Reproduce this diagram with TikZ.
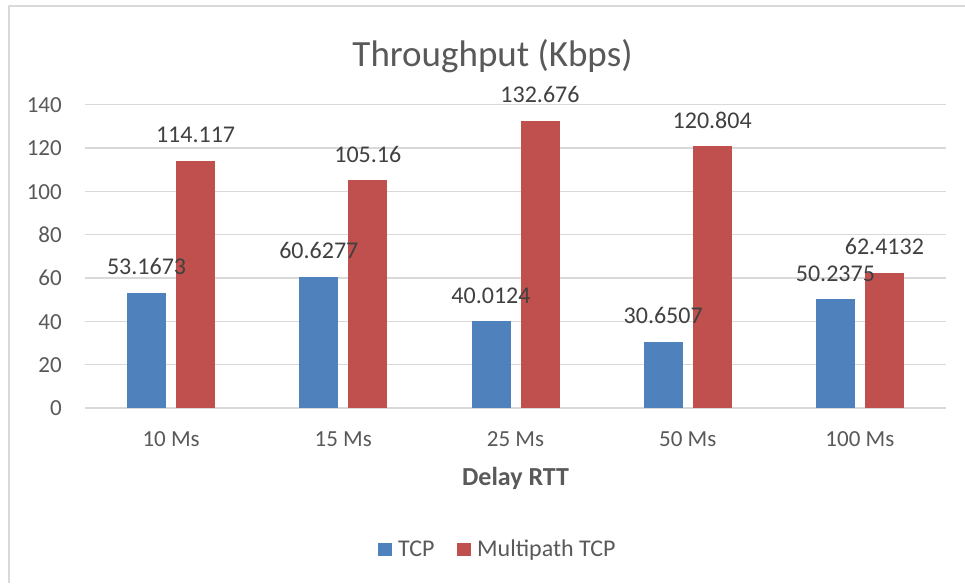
\documentclass[tikz,border=0pt]{standalone}
\usepackage{fontspec}
\setmainfont{Carlito}
\usepackage{tikz}
\definecolor{tcpblue}{HTML}{4F81BD}
\definecolor{mptcpred}{HTML}{C0504D}
\definecolor{axisgray}{HTML}{595959}
\definecolor{labelgray}{HTML}{404040}
\definecolor{gridgray}{HTML}{D9D9D9}

\begin{document}
\begin{tikzpicture}[line cap=round,line join=round,x=1pt,y=1pt,
  gridline/.style={gridgray,line width=1.4pt,line cap=butt},
  chartframe/.style={gridgray,line width=1.5pt,line cap=butt},
  ticklabel/.style={anchor=base east,inner sep=0pt,text=axisgray,font=\fontsize{23}{27}\selectfont},
  catlabel/.style={anchor=base,inner sep=0pt,text=axisgray,font=\fontsize{23}{27}\selectfont},
  datalabel/.style={anchor=base,inner sep=0pt,text=labelgray,font=\fontsize{24}{28}\selectfont},
  tcpbar/.style={fill=tcpblue,draw=none},
  mpbar/.style={fill=mptcpred,draw=none}]
\useasboundingbox (0,0) rectangle (965,583);
% frame of the chart area
\draw[chartframe] (9,0) -- (9,577) -- (965,577);
% title
\node[anchor=base,inner sep=0pt,text=axisgray,font=\fontsize{37}{44}\selectfont] (title) at (492.5,516.3) {Throughput (Kbps)};
% grid and y labels
\foreach \v in {0,20,...,140}{
  \draw[gridline] (85,{175+2.166*\v}) -- (946,{175+2.166*\v});
  \node[ticklabel] (y\v) at (62,{175+2.166*\v-7.7}) {\v};
}
% bars
\foreach \i/\cat/\a/\b in {1/10 Ms/53.1673/114.117,2/15 Ms/60.6277/105.16,3/25 Ms/40.0124/132.676,4/50 Ms/30.6507/120.804,5/100 Ms/50.2375/62.4132}{
  \pgfmathsetmacro{\cx}{85+172.2*(\i-0.5)}
  \fill[tcpbar] (\cx-44,175) rectangle (\cx-5,{175+2.166*\a});
  \fill[mpbar] (\cx+5,175) rectangle (\cx+44,{175+2.166*\b});
  \node[catlabel] (cat\i) at (\cx,136.3) {\cat};
}
% data labels
\foreach \i/\a/\b in {1/53.1673/114.117,2/60.6277/105.16,3/40.0124/132.676,4/30.6507/120.804,5/50.2375/62.4132}{
  \pgfmathsetmacro{\cx}{85+172.2*(\i-0.5)}
  \node[datalabel] (tcpval\i) at (\cx-24.5,{175+2.166*\a+18}) {\a};
  \node[datalabel] (mpval\i) at (\cx+24.5,{175+2.166*\b+18}) {\b};
}
% axis title
\node[anchor=base,inner sep=0pt,text=axisgray,font=\bfseries\fontsize{26}{31}\selectfont] (xtitle) at (515.5,97) {Delay RTT};
% legend
\fill[tcpbar] (378,27) rectangle (392,40.3);
\node[catlabel,anchor=base west,font=\fontsize{24}{28}\selectfont] (legtcp) at (398,27) {TCP};
\fill[mpbar] (457,27) rectangle (471,40.3);
\node[catlabel,anchor=base west,font=\fontsize{24}{28}\selectfont] (legmp) at (477,27) {Multipath TCP};
\end{tikzpicture}
\end{document}
